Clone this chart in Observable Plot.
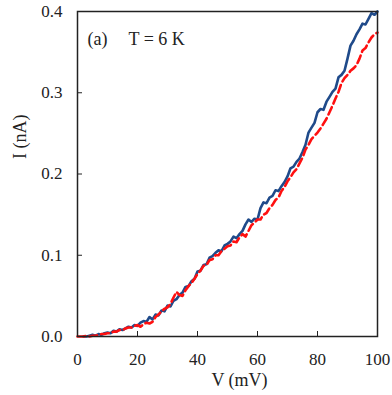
<!DOCTYPE html>
<html><head><meta charset="utf-8">
<script src="https://cdn.jsdelivr.net/npm/d3@7"></script>
<script src="https://cdn.jsdelivr.net/npm/@observablehq/plot@0.6"></script>
<style>body{margin:0;background:#fff}</style>
</head><body><div id="chart"></div>
<script>
const voltage = [0,1,2,3,4,5,6,7,8,9,10,11,12,13,14,15,16,17,18,19,20,21,22,23,24,25,26,27,28,29,30,31,32,33,34,35,36,37,38,39,40,41,42,43,44,45,46,47,48,49,50,51,52,53,54,55,56,57,58,59,60,61,62,63,64,65,66,67,68,69,70,71,72,73,74,75,76,77,78,79,80,81,82,83,84,85,86,87,88,89,90,91,92,93,94,95,96,97,98,99,100];
const currentBlue = [null,null,0.000,0.000,0.001,0.002,0.001,0.003,0.002,0.004,0.005,0.004,0.007,0.006,0.009,0.008,0.010,0.012,0.011,0.014,0.013,0.017,0.019,0.018,0.024,0.021,0.027,0.026,0.032,0.031,0.038,0.037,0.044,0.046,0.051,0.054,0.061,0.062,0.068,0.071,0.080,0.081,0.088,0.089,0.097,0.099,0.103,0.106,0.105,0.112,0.114,0.117,0.123,0.121,0.126,0.130,0.138,0.144,0.141,0.145,0.144,0.158,0.165,0.164,0.171,0.173,0.180,0.179,0.185,0.190,0.197,0.207,0.209,0.215,0.219,0.227,0.236,0.251,0.257,0.263,0.276,0.280,0.279,0.289,0.295,0.301,0.305,0.319,0.322,0.327,0.342,0.358,0.364,0.372,0.378,0.385,0.384,0.391,0.398,0.396,0.400];
const currentRed = [0.000,0.000,0.000,0.001,0.000,0.001,0.001,0.002,0.003,0.003,0.004,0.004,0.006,0.006,0.008,0.008,0.010,0.011,0.011,0.013,0.014,0.012,0.015,0.017,0.016,0.018,0.024,0.027,0.031,0.034,0.036,0.040,0.048,0.055,0.051,0.050,0.057,0.062,0.066,0.071,0.077,0.081,0.087,0.088,0.094,0.095,0.100,0.100,0.105,0.108,0.111,0.112,0.117,0.116,0.122,0.126,0.123,0.130,0.137,0.140,0.144,0.144,0.150,0.152,0.158,0.162,0.168,0.171,0.179,0.184,0.191,0.196,0.202,0.206,0.213,0.220,0.230,0.236,0.243,0.247,0.251,0.256,0.262,0.268,0.276,0.284,0.293,0.301,0.312,0.318,0.322,0.327,0.330,0.334,0.342,0.352,0.355,0.362,0.368,0.372,0.374];
const xTicks = [0,20,40,60,80,100];
const yTicks = [0,0.1,0.2,0.3,0.4];
const xLabel = "V (mV)";
const yLabel = "I (nA)";
const panelLabel = "(a)";
const tempLabel = "T = 6 K";

const blueData = voltage.map((v,i)=>({v, c: currentBlue[i]}));
const redData = voltage.map((v,i)=>({v, c: currentRed[i]}));

const font = '"Liberation Serif","Times New Roman",serif';
const chart = Plot.plot({
  width: 392, height: 395,
  marginLeft: 77, marginRight: 15, marginTop: 11, marginBottom: 59,
  style: {fontFamily: font, fontSize: "17px", color: "#222", background: "white"},
  x: {domain: [0,100]},
  y: {domain: [0,0.4]},
  marks: [
    Plot.axisX({ticks: xTicks, tickSize: -5, tickPadding: 21, label: null, stroke: "#222", fontFamily: font, fontSize: 17}),
    Plot.axisY({ticks: yTicks, tickSize: -5, tickPadding: 20, tickFormat: d3.format(".1f"), label: null, stroke: "#222", fontFamily: font, fontSize: 17}),
    Plot.line(blueData, {x: "v", y: "c", stroke: "#1f4a8a", strokeWidth: 2.6, defined: d => d.c != null}),
    Plot.line(redData, {x: "v", y: "c", stroke: "#ff1010", strokeWidth: 2.6, strokeDasharray: "8,4"}),
    Plot.frame({stroke: "#222", strokeWidth: 1.5}),
    Plot.text([panelLabel], {frameAnchor: "top-left", dx: 10, dy: 21, textAnchor: "start", fontSize: 18, fontFamily: font, fill: "#222"}),
    Plot.text([tempLabel], {frameAnchor: "top-left", dx: 51, dy: 21, textAnchor: "start", fontSize: 18, fontFamily: font, fill: "#222"}),
    Plot.text([xLabel], {frameAnchor: "bottom", dx: 12, dy: 49, fontSize: 18, fontFamily: font, fill: "#222"}),
    Plot.text([yLabel], {frameAnchor: "left", rotate: -90, dx: -57, dy: -15, fontSize: 18, fontFamily: font, fill: "#222"})
  ]
});
document.getElementById("chart").appendChild(chart);
</script>
</body></html>
